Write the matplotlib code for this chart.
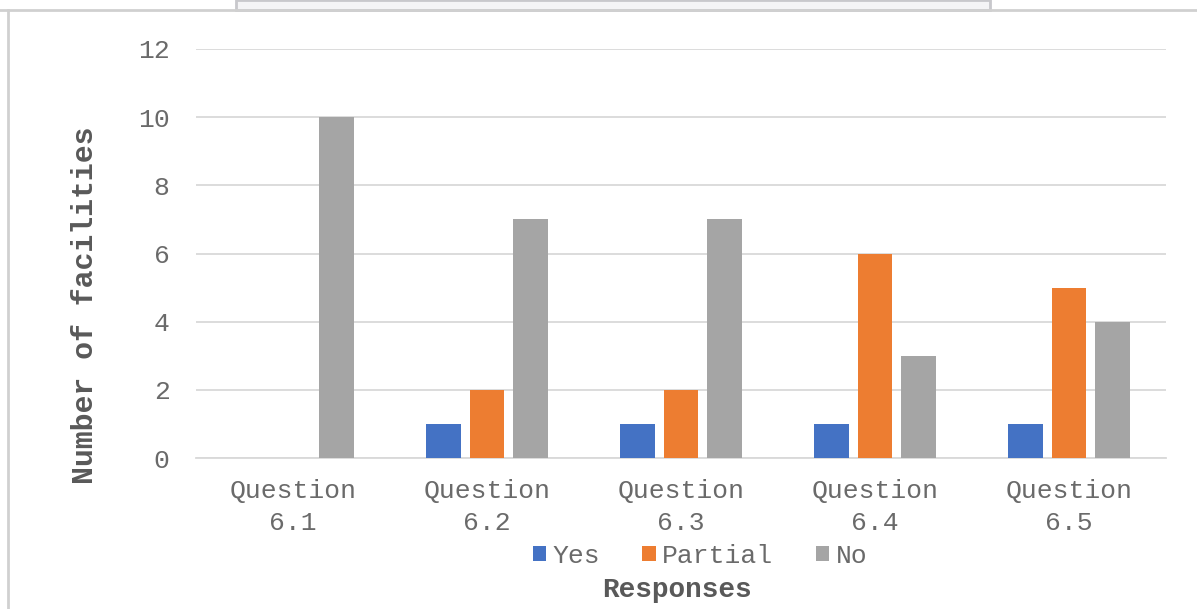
import matplotlib
matplotlib.use("Agg")
import matplotlib.pyplot as plt
from matplotlib.patches import Rectangle
from matplotlib.lines import Line2D
import numpy as np

categories = ["Question\n6.1", "Question\n6.2", "Question\n6.3", "Question\n6.4", "Question\n6.5"]
yes = [0, 1, 1, 1, 1]
partial = [0, 2, 2, 6, 5]
no = [10, 7, 7, 3, 4]
series_names = ["Yes", "Partial", "No"]
colors = ["#4472C4", "#ED7D31", "#A5A5A5"]
yticks = [0, 2, 4, 6, 8, 10, 12]

plt.rcParams["font.family"] = ["Liberation Mono", "DejaVu Sans Mono"]

fig = plt.figure(figsize=(11.97, 6.09), dpi=100)
W, H = 1197, 609

# frame decoration around the chart area
fig.add_artist(Line2D([0, 1], [1 - 10 / H, 1 - 10 / H], color="#d0d0d0", lw=2))
fig.add_artist(Line2D([8 / W, 8 / W], [0, 1 - 10 / H], color="#d0d0d0", lw=2))
fig.add_artist(Rectangle((236 / W, 1 - 10 / H), (990 - 236) / W, 10 / H,
                         facecolor="#f4f4f6", edgecolor="#c8c8cc", lw=2))

ax = fig.add_axes([196 / W, 1 - 458 / H, (1166 - 196) / W, (458 - 49) / H])

x = np.arange(len(categories))
bw = 0.18
step = 0.222
for i, (vals, c, name) in enumerate(zip([yes, partial, no], colors, series_names)):
    ax.bar(x + (i - 1) * step, vals, width=bw, color=c, label=name, zorder=3)

tick_color = "#6a6a6a"
ax.set_xlim(-0.5, len(categories) - 0.5)
ax.set_ylim(0, 12)
ax.set_yticks(yticks)
ax.set_yticklabels([str(t) for t in yticks])
ax.set_xticks(x)
ax.set_xticklabels(categories, linespacing=1.42)
ax.grid(axis="y", color="#d9d9d9", lw=1.3, zorder=0)
for s in ["top", "right", "left"]:
    ax.spines[s].set_visible(False)
ax.spines["bottom"].set_color("#d9d9d9")
ax.spines["bottom"].set_linewidth(1.3)
ax.tick_params(axis="both", length=0, labelsize=19, labelcolor=tick_color)
ax.tick_params(axis="y", pad=19)
ax.tick_params(axis="x", pad=15)

fig.text(85 / W, 1 - 305 / H, "Number of facilities", fontsize=21.5, fontweight="bold",
         color="#595959", ha="center", va="center", rotation=90)
fig.text(677 / W, 1 - 590 / H, "Responses", fontsize=20, fontweight="bold",
         color="#595959", ha="center", va="center")

leg = fig.legend(loc="center", bbox_to_anchor=(700 / W, 1 - 556 / H), ncol=3,
                 frameon=False, fontsize=19, handlelength=0.5, handleheight=0.5,
                 handletextpad=0.25, columnspacing=1.6, labelcolor=tick_color)

fig.savefig("out.png", dpi=100, facecolor="white")
